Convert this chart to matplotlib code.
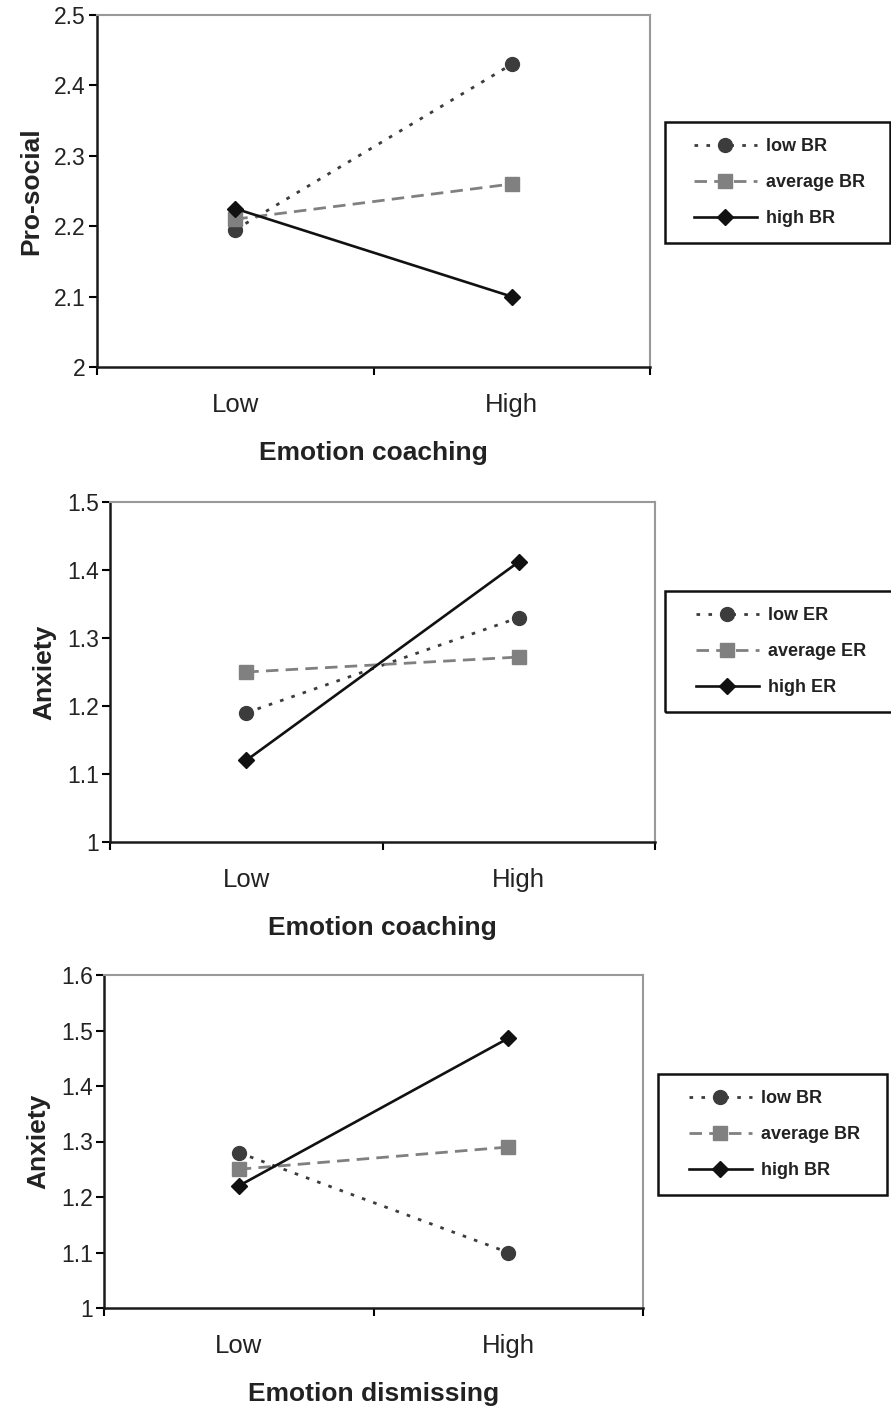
import matplotlib
matplotlib.use('Agg')
import matplotlib.pyplot as plt
from matplotlib.patches import Rectangle
from matplotlib.ticker import FormatStrFormatter, FixedLocator

plt.rcParams['font.family'] = ['Liberation Sans', 'DejaVu Sans']

W, H = 891, 1409

levels = ['Low', 'High']

# panel 1: pro-social by emotion coaching, moderated by BR
p1_low = [2.195, 2.43]
p1_avg = [2.21, 2.26]
p1_high = [2.225, 2.10]
p1_names = ['low BR', 'average BR', 'high BR']

# panel 2: anxiety by emotion coaching, moderated by ER
p2_low = [1.19, 1.33]
p2_avg = [1.25, 1.272]
p2_high = [1.12, 1.412]
p2_names = ['low ER', 'average ER', 'high ER']

# panel 3: anxiety by emotion dismissing, moderated by BR
p3_low = [1.28, 1.10]
p3_avg = [1.25, 1.29]
p3_high = [1.22, 1.486]
p3_names = ['low BR', 'average BR', 'high BR']

panels = [
    dict(box=(97, 650, 15, 367), ylim=(2.0, 2.5), ylabel='Pro-social',
         xlabel='Emotion coaching', series=(p1_low, p1_avg, p1_high),
         names=p1_names, leg=(665, 890, 122, 243)),
    dict(box=(110, 655, 502, 842), ylim=(1.0, 1.5), ylabel='Anxiety',
         xlabel='Emotion coaching', series=(p2_low, p2_avg, p2_high),
         names=p2_names, leg=(665, 893, 591, 712)),
    dict(box=(104, 643, 975, 1308), ylim=(1.0, 1.6), ylabel='Anxiety',
         xlabel='Emotion dismissing', series=(p3_low, p3_avg, p3_high),
         names=p3_names, leg=(658, 887, 1074, 1195)),
]

styles = [
    dict(color='#3c3c3c', linestyle=(0, (1.3, 3.0)), linewidth=2.0,
         marker='o', markersize=10),
    dict(color='#808080', linestyle=(0, (4.5, 2.6)), linewidth=2.0,
         marker='s', markersize=9.5),
    dict(color='#111111', linestyle='-', linewidth=1.9,
         marker='D', markersize=8),
]

fig = plt.figure(figsize=(W / 100, H / 100), dpi=100)

for p in panels:
    l, r, t, b = p['box']
    ax = fig.add_axes([l / W, 1 - b / H, (r - l) / W, (b - t) / H])
    x = [0.5, 1.5]
    handles = []
    for vals, st, name in zip(p['series'], styles, p['names']):
        h, = ax.plot(x, vals, label=name, markerfacecolor=st['color'],
                     markeredgecolor=st['color'], **st)
        handles.append(h)

    ax.set_xlim(0, 2)
    ax.set_ylim(*p['ylim'])
    ax.yaxis.set_major_locator(FixedLocator(
        [round(p['ylim'][0] + 0.1 * i, 1)
         for i in range(int(round((p['ylim'][1] - p['ylim'][0]) / 0.1)) + 1)]))
    ax.yaxis.set_major_formatter(FormatStrFormatter('%g'))
    ax.set_xticks([0, 1, 2])
    ax.set_xticklabels([])
    ax.set_xticks(x, minor=True)
    ax.set_xticklabels(levels, minor=True)
    ax.tick_params(axis='x', which='minor', length=0, pad=19,
                   labelsize=18.5, labelcolor='#222222')
    ax.tick_params(axis='x', which='major', length=5.5, width=1.5,
                   direction='out')
    ax.tick_params(axis='y', length=5.5, width=1.5, direction='out',
                   labelsize=16.5, labelcolor='#222222', pad=2.5)

    for s in ['left', 'bottom']:
        ax.spines[s].set_linewidth(1.8)
        ax.spines[s].set_color('#1a1a1a')
    for s in ['top', 'right']:
        ax.spines[s].set_linewidth(1.5)
        ax.spines[s].set_color('#999999')

    ax.set_ylabel(p['ylabel'], fontsize=19, fontweight='bold',
                  color='#222222', labelpad=8)
    ax.set_xlabel(p['xlabel'], fontsize=19, fontweight='bold',
                  color='#222222', labelpad=17)

    # legend box drawn separately so the padding matches
    ll, lr, lt, lb = p['leg']
    fig.patches.append(Rectangle((ll / W, 1 - lb / H), (lr - ll) / W,
                                 (lb - lt) / H, transform=fig.transFigure,
                                 fill=False, edgecolor='#111111',
                                 linewidth=1.8))
    leg = fig.legend(handles=handles, loc='center',
                     bbox_to_anchor=((ll + lr) / 2 / W + 2 / W,
                                     1 - (lt + lb) / 2 / H),
                     frameon=False, handlelength=3.5, handletextpad=0.5,
                     labelspacing=1.05, prop=dict(weight='bold', size=13))
    for txt in leg.get_texts():
        txt.set_color('#222222')

fig.savefig('out.png', dpi=100)
